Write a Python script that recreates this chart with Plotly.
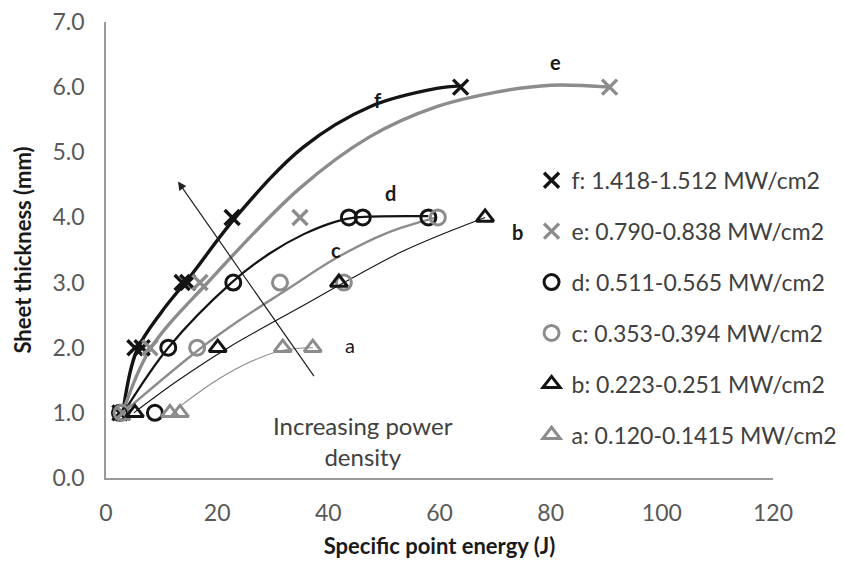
import plotly.graph_objects as go

series_names = ["f", "e", "d", "c", "b", "a"]
legend_labels = [
    "f: 1.418-1.512 MW/cm2",
    "e: 0.790-0.838 MW/cm2",
    "d: 0.511-0.565 MW/cm2",
    "c: 0.353-0.394 MW/cm2",
    "b: 0.223-0.251 MW/cm2",
    "a: 0.120-0.1415 MW/cm2",
]
f_x = [2.5, 5.2, 6.5, 13.7, 14.7, 22.7, 63.8]
f_y = [1.0, 2.0, 2.0, 3.0, 3.0, 4.0, 6.0]
e_x = [3.0, 7.9, 16.9, 34.9, 90.6]
e_y = [1.0, 2.0, 3.0, 4.0, 6.0]
d_x = [2.5, 8.8, 11.2, 22.9, 43.7, 46.2, 58.0]
d_y = [1.0, 1.0, 2.0, 3.0, 4.0, 4.0, 4.0]
c_x = [2.8, 16.4, 31.3, 42.8, 59.7]
c_y = [1.0, 2.0, 3.0, 3.0, 4.0]
b_x = [5.2, 20.1, 41.9, 68.2]
b_y = [1.0, 2.0, 3.0, 4.0]
a_x = [11.5, 13.3, 31.8, 37.2]
a_y = [1.0, 1.0, 2.0, 2.0]

# ---- trend curves at several points along each curve ----
f_curve_x = [3.2, 5.5, 10.0, 15.1, 23.5, 35.5, 47.5, 59.5, 63.8]
f_curve_y = [1.1, 1.95, 2.55, 3.09, 4.02, 5.08, 5.70, 5.98, 6.02]
e_curve_x = [3.0, 7.9, 18.5, 34.9, 47.5, 59.5, 70.0, 80.0, 90.6]
e_curve_y = [1.0, 1.97, 3.02, 4.45, 5.24, 5.70, 5.92, 6.03, 6.0]
d_curve_x = [3.5, 11.2, 22.6, 29.5, 35.5, 41.5, 45.0, 58.0]
d_curve_y = [1.05, 2.0, 3.0, 3.45, 3.74, 3.94, 4.0, 4.02]
c_curve_x = [3.0, 16.4, 24.0, 32.5, 41.5, 50.5, 59.5]
c_curve_y = [1.0, 1.95, 2.42, 2.89, 3.38, 3.76, 4.0]
b_curve_x = [5.0, 13.0, 22.0, 34.9, 43.9, 52.9, 61.9, 68.2]
b_curve_y = [1.0, 1.5, 2.0, 2.62, 3.05, 3.46, 3.79, 4.0]
a_curve_x = [13.3, 19.9, 25.9, 31.8, 37.2]
a_curve_y = [1.1, 1.5, 1.78, 1.96, 2.0]

xs = [f_x, e_x, d_x, c_x, b_x, a_x]
ys = [f_y, e_y, d_y, c_y, b_y, a_y]
cxs = [f_curve_x, e_curve_x, d_curve_x, c_curve_x, b_curve_x, a_curve_x]
cys = [f_curve_y, e_curve_y, d_curve_y, c_curve_y, b_curve_y, a_curve_y]

# ---- styles ----
BLACK = "#141414"
GRAY = "#8c8c8c"
colors = [BLACK, GRAY, BLACK, GRAY, BLACK, GRAY]
symbols = ["x-thin-open", "x-thin-open", "circle-open", "circle-open",
           "triangle-up-open", "triangle-up-open"]
line_widths = [3.4, 3.4, 2.2, 2.4, 1.1, 1.1]
FONT = "Lato"

fig = go.Figure()

for cx, cy, col, lw in zip(cxs, cys, colors, line_widths):
    fig.add_trace(go.Scatter(x=cx, y=cy, mode="lines",
                             line=dict(color=col, width=lw, shape="spline", smoothing=1.0),
                             showlegend=False, hoverinfo="skip"))

for i, (x, y, col, sym, lab) in enumerate(zip(xs, ys, colors, symbols, legend_labels)):
    is_x = sym.startswith("x")
    fig.add_trace(go.Scatter(
        x=x, y=y, mode="markers", name=lab, legendgroup=series_names[i],
        marker=dict(symbol=sym, size=15, color=col,
                    line=dict(color=col, width=3.4 if is_x else 3)),
    ))

# curve labels
label_pos = {"f": (48.9, 5.8), "e": (80.8, 6.39), "d": (51.1, 4.38),
             "c": (41.4, 3.5), "b": (74.1, 3.78), "a": (43.9, 2.04)}
for k, (lx, ly) in label_pos.items():
    fig.add_annotation(x=lx, y=ly, text=("<b>%s</b>" % k) if k != "a" else k,
                       showarrow=False, font=dict(family=FONT, size=20, color="#1a1a1a"))

# arrow "increasing power density"
fig.add_annotation(x=12.95, y=4.55, ax=37.6, ay=1.54, xref="x", yref="y",
                   axref="x", ayref="y", text="", showarrow=True, arrowhead=2,
                   arrowsize=1.4, arrowwidth=1.2, arrowcolor="#222222")
fig.add_annotation(x=46.2, y=0.57, text="Increasing power<br>density", showarrow=False,
                   font=dict(family=FONT, size=24, color="#404040"), align="center")

# the page body adds an 8px offset; the figure is wider than the window so the
# legend never pushes the plot margins (the overflow is outside the visible area)
fig.update_layout(
    width=880, height=555,
    margin=dict(l=98, r=115, t=14, b=85),
    paper_bgcolor="white", plot_bgcolor="white",
    font=dict(family=FONT, color="#404040"),
    showlegend=True,
    legend=dict(x=0.638, y=0.7, xanchor="left", yanchor="top",
                font=dict(family=FONT, size=23, color="#404040"),
                bgcolor="rgba(0,0,0,0)", tracegroupgap=18, itemwidth=30),
    xaxis=dict(range=[0, 120], dtick=20, showgrid=False, zeroline=False,
               showline=True, linecolor="#9a9a9a", linewidth=1.5, automargin=False,
               ticks="outside", ticklen=14, tickcolor="rgba(0,0,0,0)",
               ticklabeloverflow="allow",
               tickfont=dict(family=FONT, size=23, color="#595959"),
               title=dict(text="<b>Specific point energy (J)</b>", standoff=13,
                          font=dict(family=FONT, size=22, color="#1a1a1a"))),
    yaxis=dict(range=[0, 7], dtick=1, tickformat=".1f", showgrid=False, zeroline=False,
               showline=True, linecolor="#9a9a9a", linewidth=1.5, automargin=False,
               ticks="outside", ticklen=15, tickcolor="rgba(0,0,0,0)",
               ticklabeloverflow="allow",
               tickfont=dict(family=FONT, size=23, color="#595959"),
               title=dict(text="<b>Sheet thickness (mm)</b>", standoff=15,
                          font=dict(family=FONT, size=22, color="#1a1a1a"))),
)

fig.write_html("out.html")
